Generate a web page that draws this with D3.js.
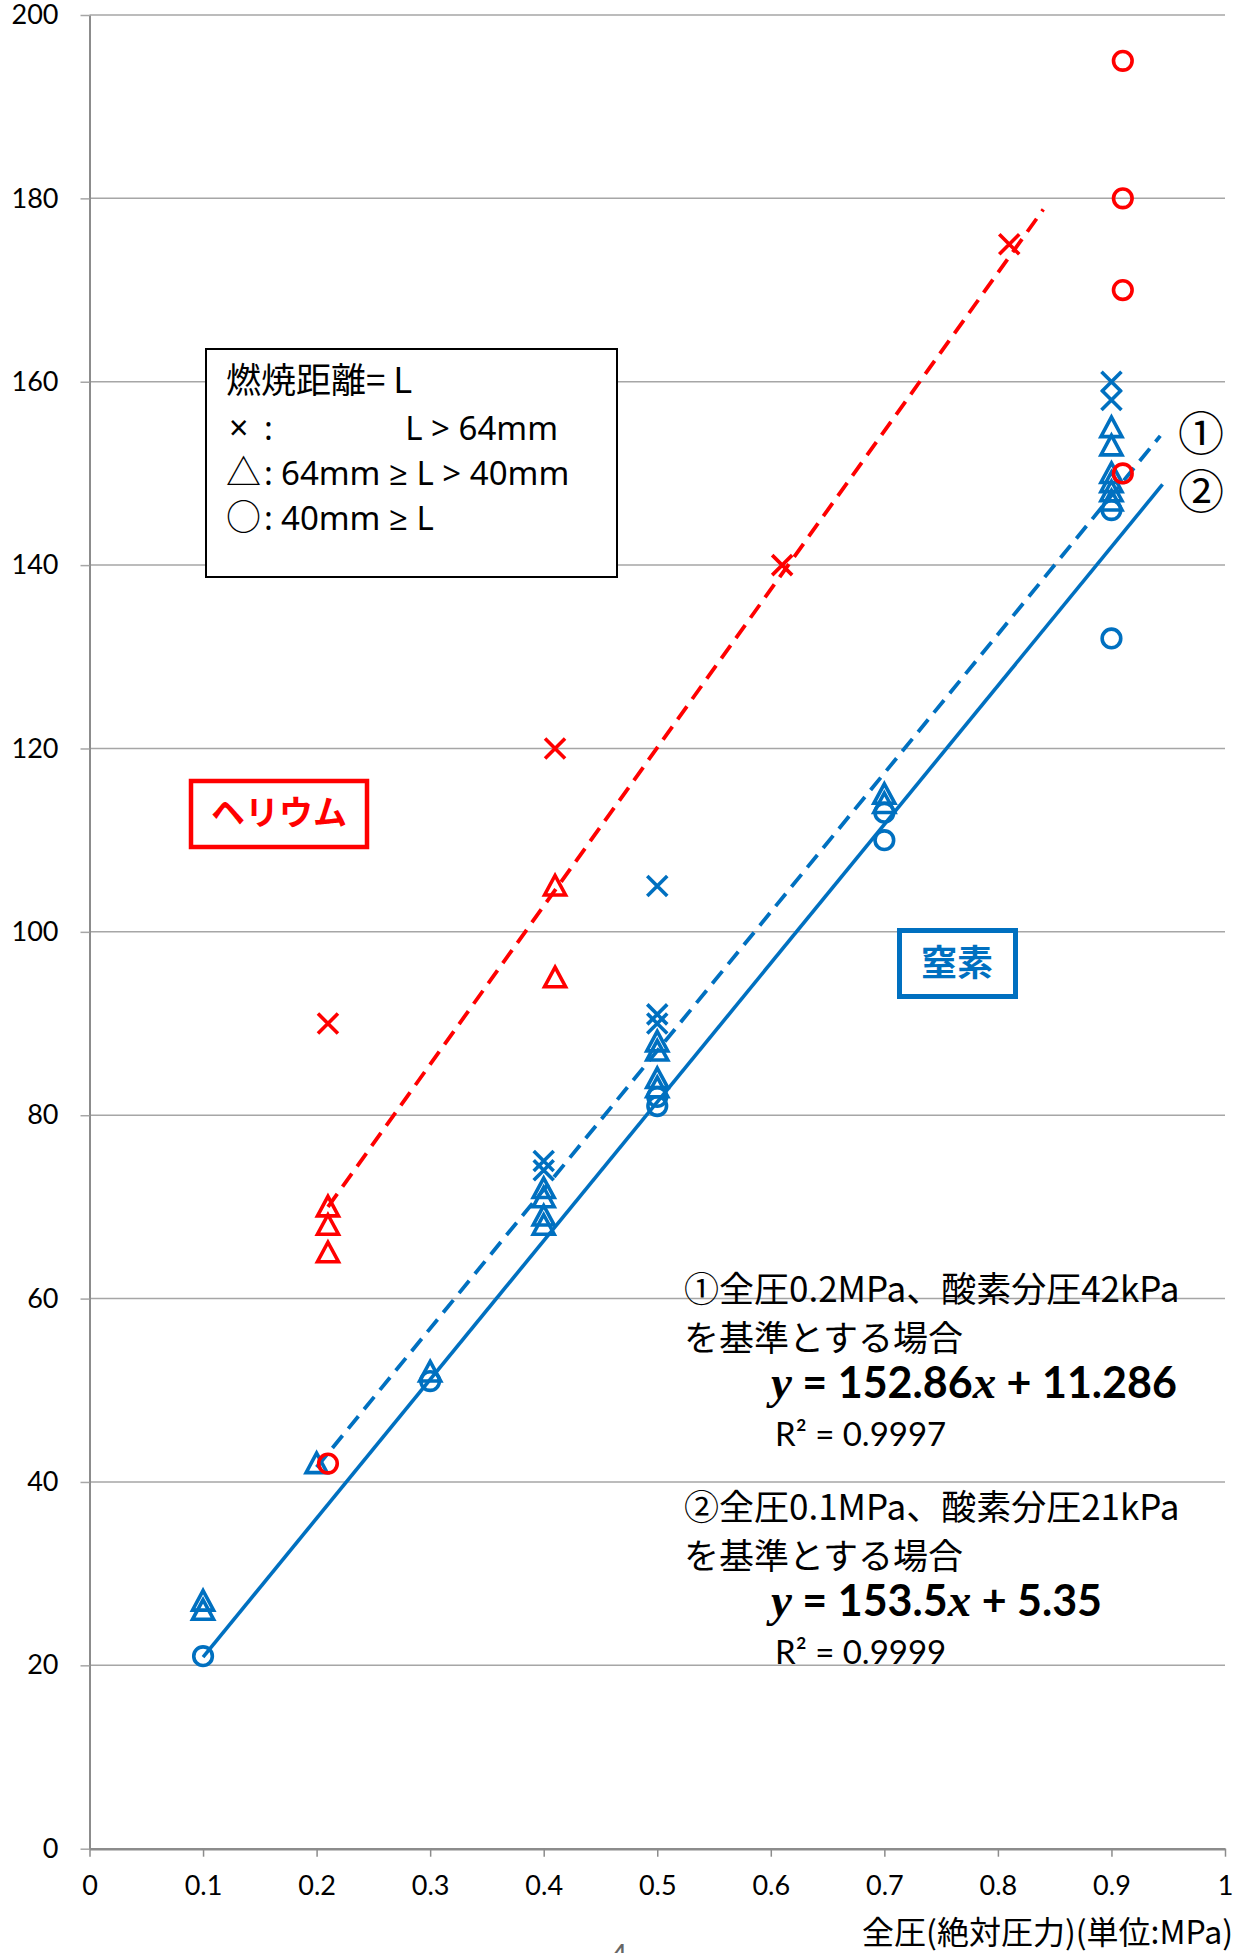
<!DOCTYPE html>
<html><head><meta charset="utf-8">
<script src="https://cdn.jsdelivr.net/npm/d3@7"></script>
<style>body{margin:0;background:#fff} svg{display:block}</style>
</head><body>
<svg id="c" width="1242" height="1953"></svg>
<script>
// ---- data ----
const xTicks = [0, 0.1, 0.2, 0.3, 0.4, 0.5, 0.6, 0.7, 0.8, 0.9, 1];
const yTicks = [0, 20, 40, 60, 80, 100, 120, 140, 160, 180, 200];

// Helium (red)
const heliumCross  = [[0.21, 90], [0.41, 120], [0.61, 140], [0.81, 175]];
const heliumTri    = [[0.21, 70], [0.21, 68], [0.21, 65], [0.41, 105], [0.41, 95]];
const heliumCircle = [[0.21, 42], [0.91, 195], [0.91, 180], [0.91, 170], [0.91, 150]];

// Nitrogen (blue)
const nitrogenCross  = [[0.4, 75], [0.4, 74], [0.5, 105], [0.5, 91], [0.5, 90], [0.9, 160], [0.9, 158]];
const nitrogenTri    = [[0.1, 27], [0.1, 26], [0.2, 42], [0.3, 52], [0.4, 72], [0.4, 71], [0.4, 69], [0.4, 68],
                        [0.5, 88], [0.5, 87], [0.5, 84], [0.5, 83], [0.7, 115], [0.7, 114],
                        [0.9, 155], [0.9, 153], [0.9, 150], [0.9, 149], [0.9, 148], [0.9, 147]];
const nitrogenCircle = [[0.1, 21], [0.3, 51], [0.5, 82], [0.5, 81], [0.7, 113], [0.7, 110], [0.9, 146], [0.9, 132]];

// Trend lines (end points)
const heliumFit = [[0.21, 70], [0.84, 178.8]];
const fit1 = [[0.2, 41.6], [0.943, 154.1]];
const fit2 = [[0.1, 20.9], [0.945, 148.8]];

const legendTitle = "燃焼距離= L";
const legendSymbols = ["×", "△", "○"];
const legendRanges = ["L > 64mm", "64mm ≥ L > 40mm", "40mm ≥ L"];
const lineLabels = ["①", "②"];
const note1 = ["①全圧0.2MPa、酸素分圧42kPa", "を基準とする場合", "152.86", "11.286", "0.9997"];
const note2 = ["②全圧0.1MPa、酸素分圧21kPa", "を基準とする場合", "153.5", "5.35", "0.9999"];
const xTitle = "全圧(絶対圧力)(単位:MPa)";

// ---- drawing ----
const RED = "#FF0000", BLUE = "#0070C0";
const JP = "'Noto Sans CJK JP', 'Noto Sans', sans-serif";
const NUM = "Lato, 'Noto Sans', sans-serif";
const LAT = "'Noto Sans', 'Open Sans', sans-serif";
const svg = d3.select("#c");
svg.append("rect").attr("width", 1242).attr("height", 1953).attr("fill", "#fff");

const x = d3.scaleLinear().domain([0, 1]).range([89.5, 1225]);
const y = d3.scaleLinear().domain([0, 200]).range([1848.7, 15]);

// gridlines
svg.append("g").selectAll("line").data(yTicks.filter(d => d > 0)).join("line")
  .attr("x1", x(0)).attr("x2", x(1)).attr("y1", d => y(d)).attr("y2", d => y(d))
  .attr("stroke", "#a6a6a6").attr("stroke-width", 1.5);

// y axis
const gy = svg.append("g").attr("transform", `translate(${x(0)},0)`)
  .call(d3.axisLeft(y).tickValues(yTicks).tickSize(9).tickSizeOuter(0).tickPadding(22).tickFormat(d3.format("d")));
gy.select(".domain").attr("stroke", "#8c8c8c").attr("stroke-width", 2);
gy.selectAll(".tick line").attr("stroke", "#a6a6a6").attr("stroke-width", 1.5);
gy.selectAll(".tick text").attr("font-family", NUM).attr("font-size", 27).attr("fill", "#000");

// x axis
const gx = svg.append("g").attr("transform", `translate(0,${y(0)})`)
  .call(d3.axisBottom(x).tickValues(xTicks).tickSize(8).tickSizeOuter(0)
    .tickFormat(d => (d === 0 || d === 1) ? String(d) : d3.format(".1f")(d)));
gx.select(".domain").attr("stroke", "#8c8c8c").attr("stroke-width", 2.5);
gx.selectAll(".tick line").attr("stroke", "#8c8c8c").attr("stroke-width", 1.5);
gx.selectAll(".tick text").attr("font-family", NUM).attr("font-size", 27).attr("fill", "#000")
  .attr("dy", null).attr("y", 46);

// x axis title
svg.append("text").attr("x", 1233).attr("y", 1944).attr("text-anchor", "end")
  .attr("font-family", JP).attr("font-size", 32).attr("fill", "#000").text(xTitle);
// partially visible page number
svg.append("text").attr("x", 619).attr("y", 1966).attr("text-anchor", "middle")
  .attr("font-family", NUM).attr("font-size", 30).attr("fill", "#666").text("4");

// trend lines
const line = d3.line().x(d => x(d[0])).y(d => y(d[1]));
svg.append("path").datum(heliumFit).attr("d", line).attr("fill", "none")
  .attr("stroke", RED).attr("stroke-width", 3.8).attr("stroke-dasharray", "16,9");
svg.append("path").datum(fit1).attr("d", line).attr("fill", "none")
  .attr("stroke", BLUE).attr("stroke-width", 3.8).attr("stroke-dasharray", "16,9");
svg.append("path").datum(fit2).attr("d", line).attr("fill", "none")
  .attr("stroke", BLUE).attr("stroke-width", 3.6);

// markers
const crossPath = (cx, cy) => `M${cx-10},${cy-10}L${cx+10},${cy+10}M${cx+10},${cy-10}L${cx-10},${cy+10}`;
const triPath = (cx, cy) => `M${cx},${cy-10.5}L${cx+10.5},${cy+9}L${cx-10.5},${cy+9}Z`;
function drawSet(data, kind, color) {
  const g = svg.append("g").attr("fill", "none").attr("stroke", color).attr("stroke-width", 3.6);
  if (kind === "circle") {
    g.selectAll("circle").data(data).join("circle")
      .attr("cx", d => x(d[0])).attr("cy", d => y(d[1])).attr("r", 9.3);
  } else {
    const f = kind === "cross" ? crossPath : triPath;
    g.selectAll("path").data(data).join("path").attr("d", d => f(x(d[0]), y(d[1])));
  }
}
drawSet(nitrogenTri, "tri", BLUE);
drawSet(nitrogenCircle, "circle", BLUE);
drawSet(nitrogenCross, "cross", BLUE);
drawSet(heliumTri, "tri", RED);
drawSet(heliumCircle, "circle", RED);
drawSet(heliumCross, "cross", RED);

// legend box
svg.append("rect").attr("x", 206).attr("y", 349).attr("width", 411).attr("height", 228)
  .attr("fill", "#fff").attr("stroke", "#000").attr("stroke-width", 2);
const lg = svg.append("g").attr("fill", "#000");
lg.append("text").attr("x", 226).attr("y", 393).attr("font-family", JP).attr("font-size", 35).text(legendTitle);
const baselines = [440, 485, 530];
legendSymbols.forEach((s, i) => {
  const t = lg.append("text").attr("y", baselines[i]);
  t.append("tspan").attr("x", i === 0 ? 229 : 226)
    .attr("font-family", i === 0 ? LAT : JP).attr("font-size", i === 0 ? 34 : 35).text(s);
  t.append("tspan").attr("x", 264).attr("font-family", LAT).attr("font-size", 33).text(":");
  if (i > 0) t.append("tspan").attr("x", 281).attr("font-family", LAT).attr("font-size", 33).text(legendRanges[i]);
});
lg.append("text").attr("x", 558).attr("y", 440).attr("text-anchor", "end").attr("font-family", LAT).attr("font-size", 33).text(legendRanges[0]);

// series labels
svg.append("rect").attr("x", 191).attr("y", 781).attr("width", 176).attr("height", 66)
  .attr("fill", "#fff").attr("stroke", RED).attr("stroke-width", 4.5);
svg.append("text").attr("x", 279).attr("y", 825).attr("text-anchor", "middle")
  .attr("font-family", JP).attr("font-weight", "bold").attr("font-size", 34).attr("fill", RED).text("ヘリウム");
svg.append("rect").attr("x", 899.5).attr("y", 930.5).attr("width", 116).attr("height", 66)
  .attr("fill", "#fff").attr("stroke", BLUE).attr("stroke-width", 5);
svg.append("text").attr("x", 957).attr("y", 976).attr("text-anchor", "middle")
  .attr("font-family", JP).attr("font-weight", "bold").attr("font-size", 36).attr("fill", BLUE).text("窒素");

// circled numbers at line ends
const cn = svg.append("text").attr("font-family", JP).attr("font-size", 46).attr("fill", "#000");
cn.append("tspan").attr("x", 1178).attr("y", 450).text(lineLabels[0]);
cn.append("tspan").attr("x", 1178).attr("y", 508).text(lineLabels[1]);

// annotation block
function note(lines, top) {
  const g = svg.append("g").attr("fill", "#000");
  g.append("text").attr("x", 684).attr("y", top).attr("font-family", JP).attr("font-size", 35).text(lines[0]);
  g.append("text").attr("x", 684).attr("y", top + 49).attr("font-family", JP).attr("font-size", 35).text(lines[1]);
  const eq = g.append("text").attr("x", 771).attr("y", top + 96).attr("font-size", 43).attr("font-weight", "bold");
  eq.append("tspan").attr("font-family", "'Liberation Serif', serif").attr("font-style", "italic").attr("font-size", 47).text("y");
  eq.append("tspan").attr("font-family", NUM).text(" = " + lines[2]);
  eq.append("tspan").attr("font-family", "'Liberation Serif', serif").attr("font-style", "italic").attr("font-size", 47).text("x");
  eq.append("tspan").attr("font-family", NUM).text(" + " + lines[3]);
  g.append("text").attr("x", 775).attr("y", top + 144).attr("font-family", NUM).attr("font-size", 33)
    .text("R² = " + lines[4]);
}
note(note1, 1302);
note(note2, 1520);
</script>
</body></html>
